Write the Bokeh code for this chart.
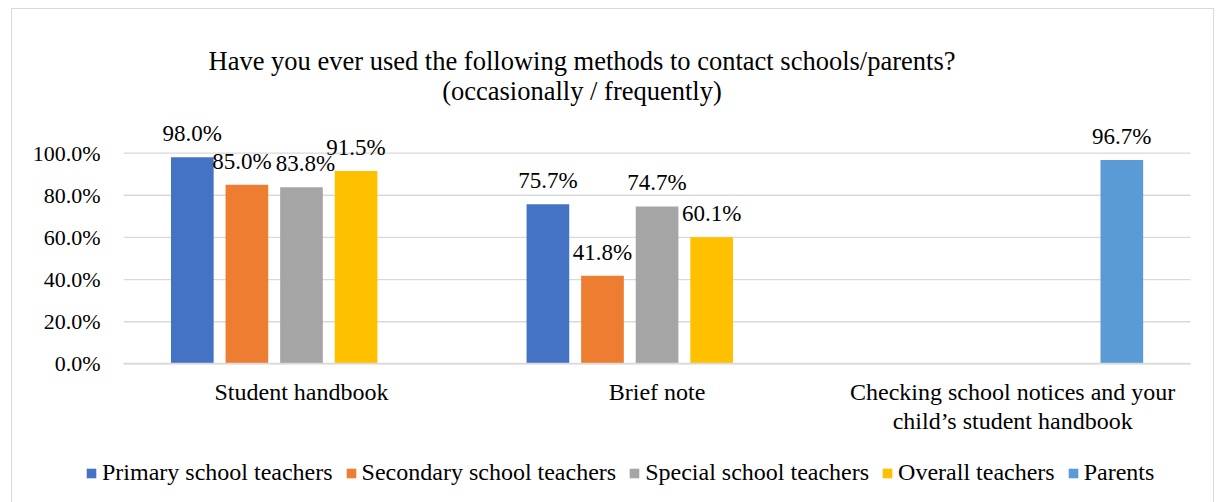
from bokeh.plotting import figure
from bokeh.models import (ColumnDataSource, FixedTicker, Legend, LegendItem,
                          NumeralTickFormatter, Range1d, LabelSet, Label)
from bokeh.embed import file_html
from bokeh.resources import INLINE

# ---- data ----
categories = ["Student handbook", "Brief note",
              "Checking school notices and your\nchild\u2019s student handbook"]
series_names = ["Primary school teachers", "Secondary school teachers",
                "Special school teachers", "Overall teachers", "Parents"]
primary_teachers = [0.980, 0.757, None]
secondary_teachers = [0.850, 0.418, None]
special_teachers = [0.838, 0.747, None]
overall_teachers = [0.915, 0.601, None]
parents = [None, None, 0.967]
y_ticks = [0.0, 0.2, 0.4, 0.6, 0.8, 1.0]
title_line1 = "Have you ever used the following methods to contact schools/parents?"
title_line2 = "(occasionally / frequently)"

colors = ["#4472C4", "#ED7D31", "#A5A5A5", "#FFC000", "#5B9BD5"]
series_values = [primary_teachers, secondary_teachers, special_teachers,
                 overall_teachers, parents]

FONT = "Liberation Serif"
GRID = "#D9D9D9"
slot = 0.1535      # distance between neighbouring bars inside a group
bar_w = 0.12
# small sideways nudges (px) so neighbouring value labels do not collide
label_nudge = {(1, 0): -5, (2, 0): 4}   # (series index, category index)

# ---- pixel layout: the frame fills the whole canvas, axes sit at fixed spots ----
W, H = 1203, 495                 # outer size incl. 1px css border
cw, ch = W - 2, H - 2            # canvas size
plot_left, plot_w = 111, 1065    # category area inside the canvas
zero_y, px_per_unit = 353, 210   # y pixel of 0 % and pixels per 100 %

n_cat = len(categories)
sx = plot_w / n_cat
x_start = -0.5 - plot_left / sx
x_end = x_start + cw / sx
y_end = zero_y / px_per_unit
y_start = y_end - ch / px_per_unit

p = figure(width=W, height=H, output_backend="svg", toolbar_location=None,
           x_range=Range1d(x_start, x_end), y_range=Range1d(y_start, y_end),
           min_border=0)
p.styles = {"margin-left": "11px", "margin-top": "8px",
            "border": f"1px solid {GRID}"}
p.outline_line_color = None
p.background_fill_color = "white"
p.border_fill_color = "white"
p.xgrid.visible = False
p.ygrid.visible = False

# horizontal gridlines over the category area
p.segment(x0=[-0.5] * len(y_ticks), x1=[n_cat - 0.5] * len(y_ticks),
          y0=y_ticks, y1=y_ticks, line_color=GRID, line_width=1.3)

items = []
for k, (name, vals, col) in enumerate(zip(series_names, series_values, colors)):
    xs, tops, texts, nudges = [], [], [], []
    for i, v in enumerate(vals):
        if v is None:
            continue
        xs.append(i + (k - 2) * slot)
        tops.append(v)
        texts.append(f"{v * 100:.1f}%")
        nudges.append(label_nudge.get((k, i), 0))
    src = ColumnDataSource(dict(x=xs, top=tops, label=texts, dx=nudges))
    r = p.vbar(x="x", top="top", width=bar_w, source=src,
               fill_color=col, line_color=None)
    items.append(LegendItem(label=name, renderers=[r]))
    p.add_layout(LabelSet(x="x", y="top", text="label", source=src,
                          x_offset="dx", y_offset=16, text_align="center",
                          text_baseline="alphabetic", text_font=FONT,
                          text_font_size="23px", text_color="black"))

# axes pinned to the category area
p.yaxis.fixed_location = -0.5
p.yaxis.ticker = FixedTicker(ticks=y_ticks)
p.yaxis.formatter = NumeralTickFormatter(format="0.0%")
p.yaxis.axis_line_color = None
p.yaxis.major_tick_line_color = None
p.yaxis.minor_tick_line_color = None
p.yaxis.major_label_standoff = 17
p.yaxis.major_label_text_font = FONT
p.yaxis.major_label_text_font_size = "22px"
p.yaxis.major_label_text_color = "black"

p.xaxis.fixed_location = 0
p.xaxis.bounds = (-0.5, n_cat - 0.5)
p.xaxis.ticker = FixedTicker(ticks=list(range(n_cat)))
p.xaxis.major_label_overrides = {i: c for i, c in enumerate(categories)}
p.xaxis.axis_line_color = GRID
p.xaxis.axis_line_width = 1.3
p.xaxis.major_tick_line_color = None
p.xaxis.minor_tick_line_color = None
p.xaxis.major_label_standoff = 9
p.xaxis.major_label_text_font = FONT
p.xaxis.major_label_text_font_size = "24px"
p.xaxis.major_label_text_line_height = 1.1
p.xaxis.major_label_text_color = "black"

# title (two centred lines)
for txt, yy in [(title_line1, ch - 49), (title_line2, ch - 79)]:
    p.add_layout(Label(x=569.5, y=yy, x_units="screen", y_units="screen",
                       text=txt, text_align="center", text_baseline="alphabetic",
                       text_font=FONT, text_font_size="26.5px", text_color="black"))

legend = Legend(items=items, orientation="horizontal", location=(73, 18),
                glyph_width=12, glyph_height=12, label_standoff=5, spacing=12,
                padding=0, margin=0, border_line_color=None,
                background_fill_alpha=0,
                label_text_font=FONT, label_text_font_size="24px",
                label_text_color="black")
p.add_layout(legend)

open("out.html", "w").write(file_html(p, INLINE))
